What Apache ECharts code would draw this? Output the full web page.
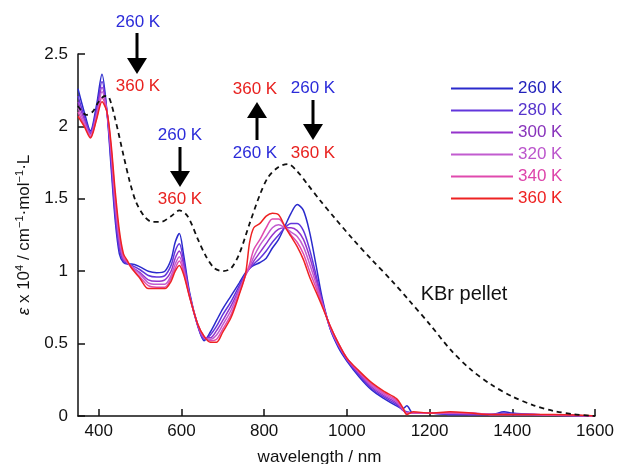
<!DOCTYPE html>
<html>
<head>
<meta charset="utf-8">
<script src="https://cdn.jsdelivr.net/npm/echarts@6/dist/echarts.min.js"></script>
<style>
  html, body { margin: 0; padding: 0; background: #fff; }
  #chart { width: 618px; height: 464px; }
</style>
</head>
<body>
<div id="chart"></div>
<script>
  // wavelength grid (nm) for the temperature spectra
  var wl = [350, 365, 380, 395, 408, 420, 430, 440, 450, 460, 470, 480, 500, 520, 540, 560, 575, 585, 595, 605,
            620, 640, 655, 670, 685, 700, 720, 740, 755, 765, 775, 790, 805, 820, 835, 850, 865, 880, 895, 910,
            925, 940, 960, 980, 1000, 1030, 1060, 1090, 1120, 1135, 1145, 1160, 1200, 1250, 1300, 1350, 1380, 1400, 1450, 1500, 1600];

  var t260 = [2.26, 2.10, 1.97, 2.15, 2.36, 2.10, 1.72, 1.35, 1.12, 1.06, 1.05, 1.05, 1.03, 1.00, 0.99, 1.00, 1.08, 1.20, 1.26, 1.12,
              0.85, 0.62, 0.52, 0.58, 0.66, 0.74, 0.83, 0.92, 0.99, 1.02, 1.04, 1.06, 1.09, 1.16, 1.22, 1.31, 1.40, 1.46, 1.42, 1.27,
              1.05, 0.82, 0.60, 0.47, 0.38, 0.27, 0.18, 0.12, 0.07, 0.05, 0.07, 0.02, 0.02, 0.01, 0.01, 0.01, 0.03, 0.02, 0.01, 0.005, 0];
  var t280 = [2.21, 2.07, 1.96, 2.12, 2.31, 2.10, 1.76, 1.39, 1.15, 1.07, 1.05, 1.04, 1.01, 0.97, 0.96, 0.97, 1.04, 1.14, 1.19, 1.08,
              0.84, 0.62, 0.53, 0.56, 0.62, 0.70, 0.79, 0.90, 0.98, 1.02, 1.05, 1.09, 1.14, 1.20, 1.25, 1.30, 1.33, 1.33, 1.28, 1.15,
              0.98, 0.80, 0.60, 0.48, 0.39, 0.28, 0.19, 0.13, 0.08, 0.04, 0.03, 0.02, 0.02, 0.01, 0.01, 0.01, 0.02, 0.01, 0.01, 0.005, 0];
  var t300 = [2.17, 2.05, 1.95, 2.10, 2.27, 2.10, 1.80, 1.43, 1.19, 1.08, 1.06, 1.03, 0.99, 0.94, 0.93, 0.94, 1.00, 1.09, 1.14, 1.05,
              0.83, 0.62, 0.54, 0.54, 0.59, 0.66, 0.76, 0.88, 0.98, 1.02, 1.07, 1.13, 1.19, 1.25, 1.29, 1.30, 1.30, 1.28, 1.22, 1.10,
              0.95, 0.79, 0.61, 0.49, 0.39, 0.29, 0.20, 0.14, 0.09, 0.04, 0.02, 0.02, 0.02, 0.02, 0.01, 0.01, 0.01, 0.01, 0.01, 0.005, 0];
  var t320 = [2.13, 2.03, 1.94, 2.08, 2.24, 2.10, 1.83, 1.47, 1.22, 1.09, 1.06, 1.03, 0.98, 0.92, 0.91, 0.91, 0.97, 1.05, 1.10, 1.02,
              0.83, 0.63, 0.54, 0.53, 0.56, 0.63, 0.73, 0.87, 0.97, 1.03, 1.10, 1.18, 1.24, 1.30, 1.32, 1.30, 1.27, 1.24, 1.17, 1.05,
              0.92, 0.78, 0.61, 0.49, 0.40, 0.30, 0.21, 0.15, 0.10, 0.05, 0.02, 0.02, 0.02, 0.02, 0.02, 0.01, 0.01, 0.01, 0.01, 0.005, 0];
  var t340 = [2.10, 2.01, 1.93, 2.06, 2.20, 2.10, 1.85, 1.51, 1.25, 1.10, 1.06, 1.02, 0.96, 0.90, 0.89, 0.89, 0.95, 1.02, 1.07, 1.00,
              0.82, 0.63, 0.55, 0.52, 0.53, 0.60, 0.70, 0.85, 0.97, 1.05, 1.15, 1.22, 1.30, 1.36, 1.36, 1.31, 1.25, 1.20, 1.12, 1.00,
              0.89, 0.77, 0.62, 0.50, 0.40, 0.30, 0.22, 0.16, 0.11, 0.05, 0.02, 0.02, 0.02, 0.02, 0.02, 0.01, 0.01, 0.01, 0.01, 0.005, 0];
  var t360 = [2.07, 2.00, 1.92, 2.05, 2.17, 2.10, 1.88, 1.55, 1.28, 1.12, 1.07, 1.02, 0.95, 0.88, 0.88, 0.88, 0.93, 1.00, 1.04, 0.98,
              0.82, 0.63, 0.55, 0.51, 0.51, 0.58, 0.68, 0.84, 0.98, 1.20, 1.30, 1.33, 1.38, 1.40, 1.39, 1.31, 1.24, 1.17, 1.08, 0.96,
              0.86, 0.76, 0.62, 0.50, 0.40, 0.31, 0.23, 0.17, 0.12, 0.06, 0.01, 0.03, 0.02, 0.03, 0.02, 0.01, 0.01, 0.01, 0.01, 0.01, 0];

  // KBr pellet spectrum (dashed)
  var kbrWl  = [350, 370, 385, 400, 415, 425, 440, 460, 475, 490, 510, 530, 550, 575, 595, 615, 640, 660, 680, 700,
                720, 740, 765, 790, 810, 835, 857, 880, 905, 935, 970, 1015, 1060, 1110, 1150, 1200, 1250, 1300, 1350, 1400,
                1450, 1500, 1550, 1600];
  var kbrVal = [2.14, 2.08, 2.10, 2.17, 2.21, 2.20, 2.05, 1.80, 1.62, 1.48, 1.38, 1.34, 1.34, 1.38, 1.42, 1.38, 1.22, 1.10, 1.02, 1.00,
                1.02, 1.12, 1.33, 1.53, 1.65, 1.72, 1.74, 1.69, 1.60, 1.49, 1.37, 1.22, 1.08, 0.93, 0.80, 0.635, 0.46, 0.32, 0.215, 0.135,
                0.075, 0.035, 0.012, 0];

  var temps = ['260 K', '280 K', '300 K', '320 K', '340 K', '360 K'];
  var tempData = [t260, t280, t300, t320, t340, t360];
  var colors = ['#2a2acc', '#6236dc', '#9533cc', '#c25ccf', '#e04aae', '#ee2222'];
  var textColors = ['#2222bb', '#5533cc', '#8833bb', '#bb55cc', '#dd44aa', '#ee2222'];

  var BLUE = '#2b2bd9', RED = '#e8211f';
  var font = 'Liberation Sans, Arial, sans-serif';

  var chart = echarts.init(document.getElementById('chart'));

  var series = [];
  for (var i = 0; i < temps.length; i++) {
    var pts = [];
    for (var j = 0; j < wl.length; j++) pts.push([wl[j], tempData[i][j]]);
    series.push({
      name: temps[i],
      type: 'line',
      data: pts,
      symbol: 'none',
      smooth: 0.3,
      lineStyle: { color: colors[i], width: 1.5 },
      itemStyle: { color: colors[i] }
    });
  }
  var kbrPts = [];
  for (var k = 0; k < kbrWl.length; k++) kbrPts.push([kbrWl[k], kbrVal[k]]);
  series.push({
    name: 'KBr',
    type: 'line',
    data: kbrPts,
    symbol: 'none',
    smooth: 0.3,
    lineStyle: { color: '#111', width: 1.8, type: [5, 4] }
  });

  // arrows (pixel layout of the annotations)
  function arrow(x, yFrom, yTo) {
    var dir = yTo > yFrom ? 1 : -1;
    var headLen = 16, headHalf = 10;
    return [
      { type: 'line', shape: { x1: x, y1: yFrom, x2: x, y2: yTo - dir * headLen }, style: { stroke: '#000', lineWidth: 3 } },
      { type: 'polygon', shape: { points: [[x - headHalf, yTo - dir * headLen], [x + headHalf, yTo - dir * headLen], [x, yTo]] }, style: { fill: '#000' } }
    ];
  }
  function label(x, y, txt, color, size) {
    return { type: 'text', x: x, y: y, style: { text: txt, fill: color, font: (size || 17) + 'px ' + font, align: 'center', verticalAlign: 'middle' } };
  }

  var graphics = [].concat(
    label(138, 22, '260 K', BLUE), arrow(137, 33, 74), label(138, 86, '360 K', RED),
    label(180, 135, '260 K', BLUE), arrow(180, 147, 187), label(180, 199, '360 K', RED),
    label(255, 89, '360 K', RED), arrow(257, 140, 102), label(255, 153, '260 K', BLUE),
    label(313, 88, '260 K', BLUE), arrow(313, 100, 140), label(313, 153, '360 K', RED),
    label(464, 294, 'KBr pellet', '#111', 20)
  );

  chart.setOption({
    animation: false,
    backgroundColor: '#fff',
    textStyle: { fontFamily: font },
    grid: { left: 78, right: 23, top: 54, bottom: 48, outerBoundsMode: 'none' },
    legend: {
      orient: 'vertical',
      left: 445,
      top: 75,
      itemWidth: 62,
      itemHeight: 14,
      itemGap: 5,
      itemStyle: { opacity: 0 },
      data: temps.map(function (t, i) {
        return { name: t, textStyle: { color: textColors[i], fontSize: 17, fontFamily: font } };
      })
    },
    xAxis: {
      type: 'value',
      min: 350,
      max: 1600,
      splitNumber: 6,
      name: 'wavelength / nm',
      nameLocation: 'middle',
      nameGap: 33,
      nameTextStyle: { color: '#111', fontSize: 17, padding: [0, 34, 0, 0] },
      axisLine: { lineStyle: { color: '#111', width: 1.5 } },
      axisTick: { inside: true, length: 7, lineStyle: { color: '#111', width: 1.5 } },
      axisLabel: { color: '#111', fontSize: 17, margin: 7, showMinLabel: false, formatter: function (v) { return String(v); } },
      splitLine: { show: false }
    },
    yAxis: {
      type: 'value',
      min: 0,
      max: 2.5,
      interval: 0.5,
      name: '{i|ε} x 10{sup|4} / cm{sup|−1}·mol{sup|−1}·L',
      nameLocation: 'middle',
      nameGap: 43,
      nameTextStyle: {
        color: '#111', fontSize: 17,
        rich: {
          i: { fontStyle: 'italic', fontSize: 17, color: '#111' },
          sup: { fontSize: 11, color: '#111', padding: [0, 0, 10, 0] }
        }
      },
      axisLine: { show: true, lineStyle: { color: '#111', width: 1.5 } },
      axisTick: { show: true, inside: true, length: 7, lineStyle: { color: '#111', width: 1.5 } },
      axisLabel: { color: '#111', fontSize: 17, margin: 10 },
      splitLine: { show: false }
    },
    series: series,
    graphic: graphics
  });
</script>
</body>
</html>
